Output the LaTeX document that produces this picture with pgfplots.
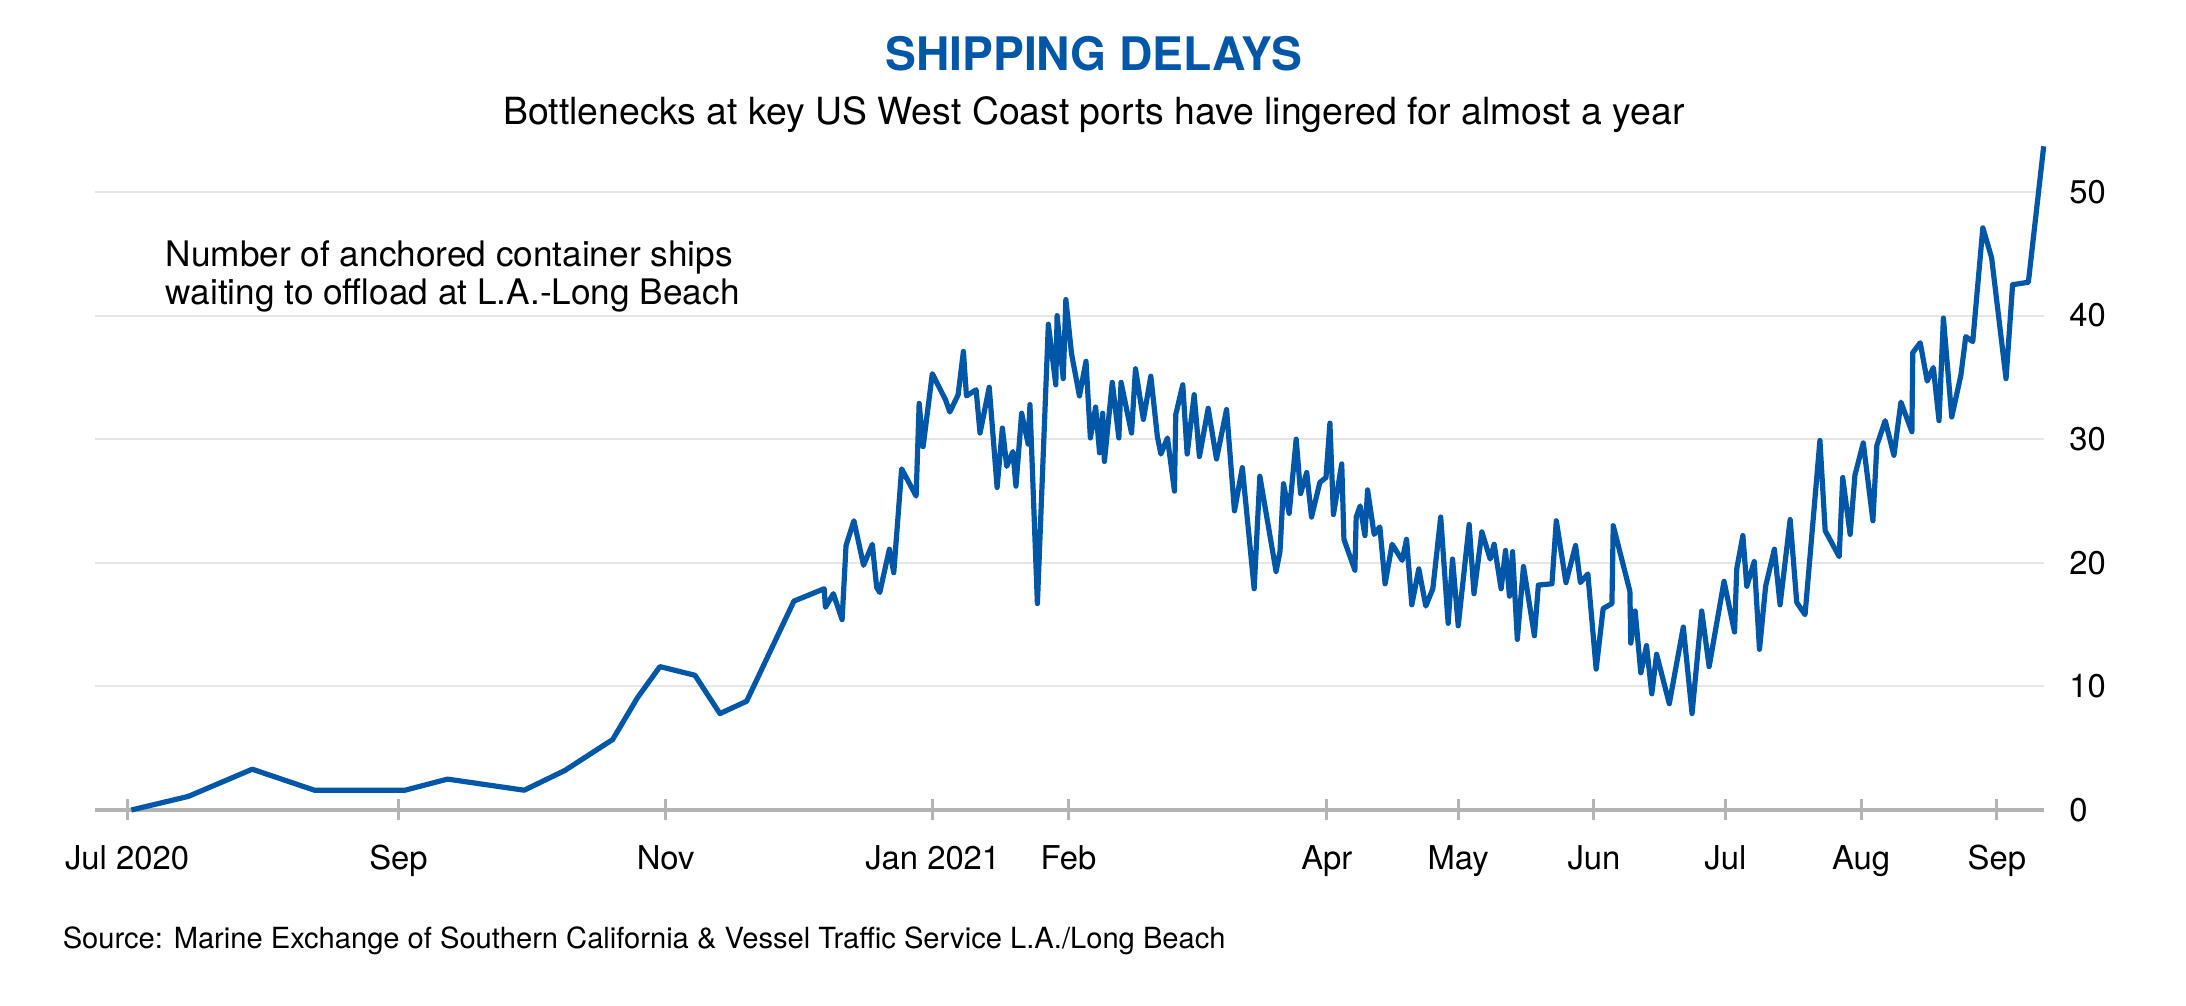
\documentclass[border=0pt]{standalone}
\usepackage{pgfplots}
\pgfplotsset{compat=1.18}
\usepackage{fontspec}
\setmainfont{TeX Gyre Heros}
\definecolor{lineblue}{HTML}{0056A7}
\definecolor{gridgray}{HTML}{E6E6E6}
\definecolor{axisgray}{HTML}{B3B3B3}
\begin{document}
\begin{tikzpicture}
\path[use as bounding box] (0,0) rectangle (546.5pt,251.5pt);
\begin{axis}[
  at={(23.75pt,49pt)}, anchor=south west,
  scale only axis, width=487.25pt, height=169.95pt,
  xmin=-7.31, xmax=437.77, ymin=0, ymax=55,
  separate axis lines,
  axis x line*=bottom,
  x axis line style={draw=axisgray, line width=0.85pt, -},
  axis y line*=right,
  y axis line style={draw=none},
  ytick={0,10,20,30,40,50},
  ytick style={draw=none},
  ymajorgrids,
  grid style={draw=gridgray, line width=0.5pt},
  xtick={0,62,123,184,215,274,304,335,365,396,427},
  xticklabels={Jul 2020,Sep,Nov,Jan 2021,Feb,Apr,May,Jun,Jul,Aug,Sep},
  xtick style={draw=axisgray, line width=0.75pt},
  tick align=center,
  major tick length=5.25pt,
  xticklabel style={anchor=base, inner sep=0pt, yshift=-12.2pt, font=\fontsize{8.2}{10}\selectfont},
  yticklabel style={anchor=west, inner sep=0pt, xshift=3.5pt, font=\fontsize{8.2}{10}\selectfont},
  /pgf/number format/assume math mode=true,
  clip=false,
]
\addplot[color=lineblue, line width=1.3pt, line join=round, mark=none] coordinates {
(1,0) (14,1.1) (28.6,3.3) (42.8,1.6) (63.5,1.6) (73.2,2.5) (90.7,1.6) (100,3.2)
(110.9,5.7) (116.6,9.1) (121.7,11.6) (129.7,10.9) (135.4,7.8) (141.5,8.8)
(152.3,16.9) (159.2,17.9) (159.5,16.4) (161.3,17.5) (163.3,15.4) (164.2,21.4)
(166,23.4) (168.2,19.8) (170.2,21.5) (171.2,18.0) (171.9,17.6) (174.1,21.1)
(175.1,19.2) (176.9,27.6) (180.2,25.4) (180.9,32.9) (181.8,29.4) (183.9,35.3)
(186.9,33.2) (187.9,32.2) (189.8,33.6) (191,37.1) (191.7,33.5) (193.9,34.0)
(194.8,30.5) (196.9,34.2) (198.7,26.1) (199.9,30.9) (200.9,27.8) (202.3,29.0)
(203,26.2) (204.3,32.1) (205.8,29.6) (206.2,32.8) (207.9,16.7) (210.4,39.3)
(212.1,34.4) (212.4,40.0) (213.8,34.9) (214.4,41.3) (215.7,36.9) (217.5,33.5)
(219,36.3) (220,30.1) (221.2,32.6) (222.1,28.9) (222.8,32.1) (223.2,28.2)
(225,34.6) (226.5,30.1) (227,34.6) (229.4,30.5) (230.3,35.7) (232.1,31.6)
(233.8,35.1) (235.3,30.2) (236.1,28.8) (237.6,30.1) (239.2,25.8) (239.5,32.0)
(241.1,34.4) (242.1,28.8) (243.7,33.6) (244.9,28.6) (246.9,32.5) (248.8,28.4)
(251.1,32.4) (252.9,24.2) (254.7,27.7) (257.4,17.9) (258.7,27.0) (262.4,19.3)
(263.3,20.9) (264.1,26.4) (265.4,24.0) (267,30.0) (268,25.6) (269.4,27.3)
(270.5,23.7) (272.4,26.5) (273.8,26.9) (274.7,31.3) (275.5,23.9) (277.4,28.0)
(277.9,21.9) (280.4,19.4) (280.7,23.7) (281.6,24.6) (282.7,22.2) (283.3,25.9)
(284.8,22.3) (286.1,22.9) (287.3,18.3) (288.9,21.5) (291.2,20.2) (292.2,21.9)
(293.4,16.6) (295,19.5) (296.6,16.5) (298.2,17.9) (300,23.7) (301.7,15.1)
(302.7,20.3) (304,14.9) (306.5,23.1) (307.6,17.5) (309.4,22.5) (311.3,20.3)
(312.2,21.5) (313.8,17.9) (314.8,21.0) (315.7,17.3) (316.4,20.9) (317.5,13.8)
(318.9,19.7) (321.4,14.1) (322.3,18.2) (325.4,18.3) (326.4,23.4) (328.6,18.4)
(330.8,21.4) (331.9,18.4) (333.6,19.1) (335.5,11.4) (337.1,16.3) (339.1,16.7)
(339.4,23.0) (343.2,17.7) (343.4,13.5) (344.4,16.1) (345.7,11.1) (347,13.3)
(348.2,9.4) (349.3,12.6) (352.2,8.6) (355.4,14.8) (357.4,7.8) (359.6,16.1)
(361.3,11.6) (364.7,18.5) (367.1,14.4) (367.6,19.5) (369,22.2) (369.9,18.1)
(371.6,20.1) (372.8,13.0) (374.2,18.1) (376.2,21.1) (377.5,16.6) (379.8,23.5)
(381.3,16.8) (383.2,15.8) (386.6,29.9) (387.8,22.6) (391,20.5) (391.8,26.9)
(393.5,22.3) (394.6,27.1) (396.5,29.7) (398.7,23.4) (399.6,29.5) (401.5,31.5)
(403.5,28.7) (405.1,33.0) (407.6,30.6) (407.8,37.0) (409.5,37.8) (411.1,34.7)
(412.5,35.8) (413.8,31.5) (414.8,39.8) (416.7,31.8) (418.8,35.2) (419.9,38.3)
(421.5,37.9) (423.8,47.1) (425.8,44.7) (429.1,34.9) (430.6,42.5) (434.2,42.7)
(437.7,53.7)
};
\end{axis}
\node[anchor=base, font=\fontsize{11.55}{14}\selectfont\bfseries, text=lineblue] at (273.4pt,233.8pt) {SHIPPING DELAYS};
\node[anchor=base, font=\fontsize{9.35}{11}\selectfont] at (273.5pt,220.25pt) {Bottlenecks at key US West Coast ports have lingered for almost a year};
\node[anchor=base west, inner sep=0pt, font=\fontsize{8.8}{11}\selectfont] at (41.25pt,184.8pt) {Number of anchored container ships};
\node[anchor=base west, inner sep=0pt, font=\fontsize{8.8}{11}\selectfont] at (41.25pt,175.25pt) {waiting to offload at L.A.-Long Beach};
\node[anchor=base west, inner sep=0pt, font=\fontsize{7.28}{9}\selectfont] at (15.5pt,14.25pt) {Source: Marine Exchange of Southern California \& Vessel Traffic Service L.A./Long Beach};
\end{tikzpicture}
\end{document}
